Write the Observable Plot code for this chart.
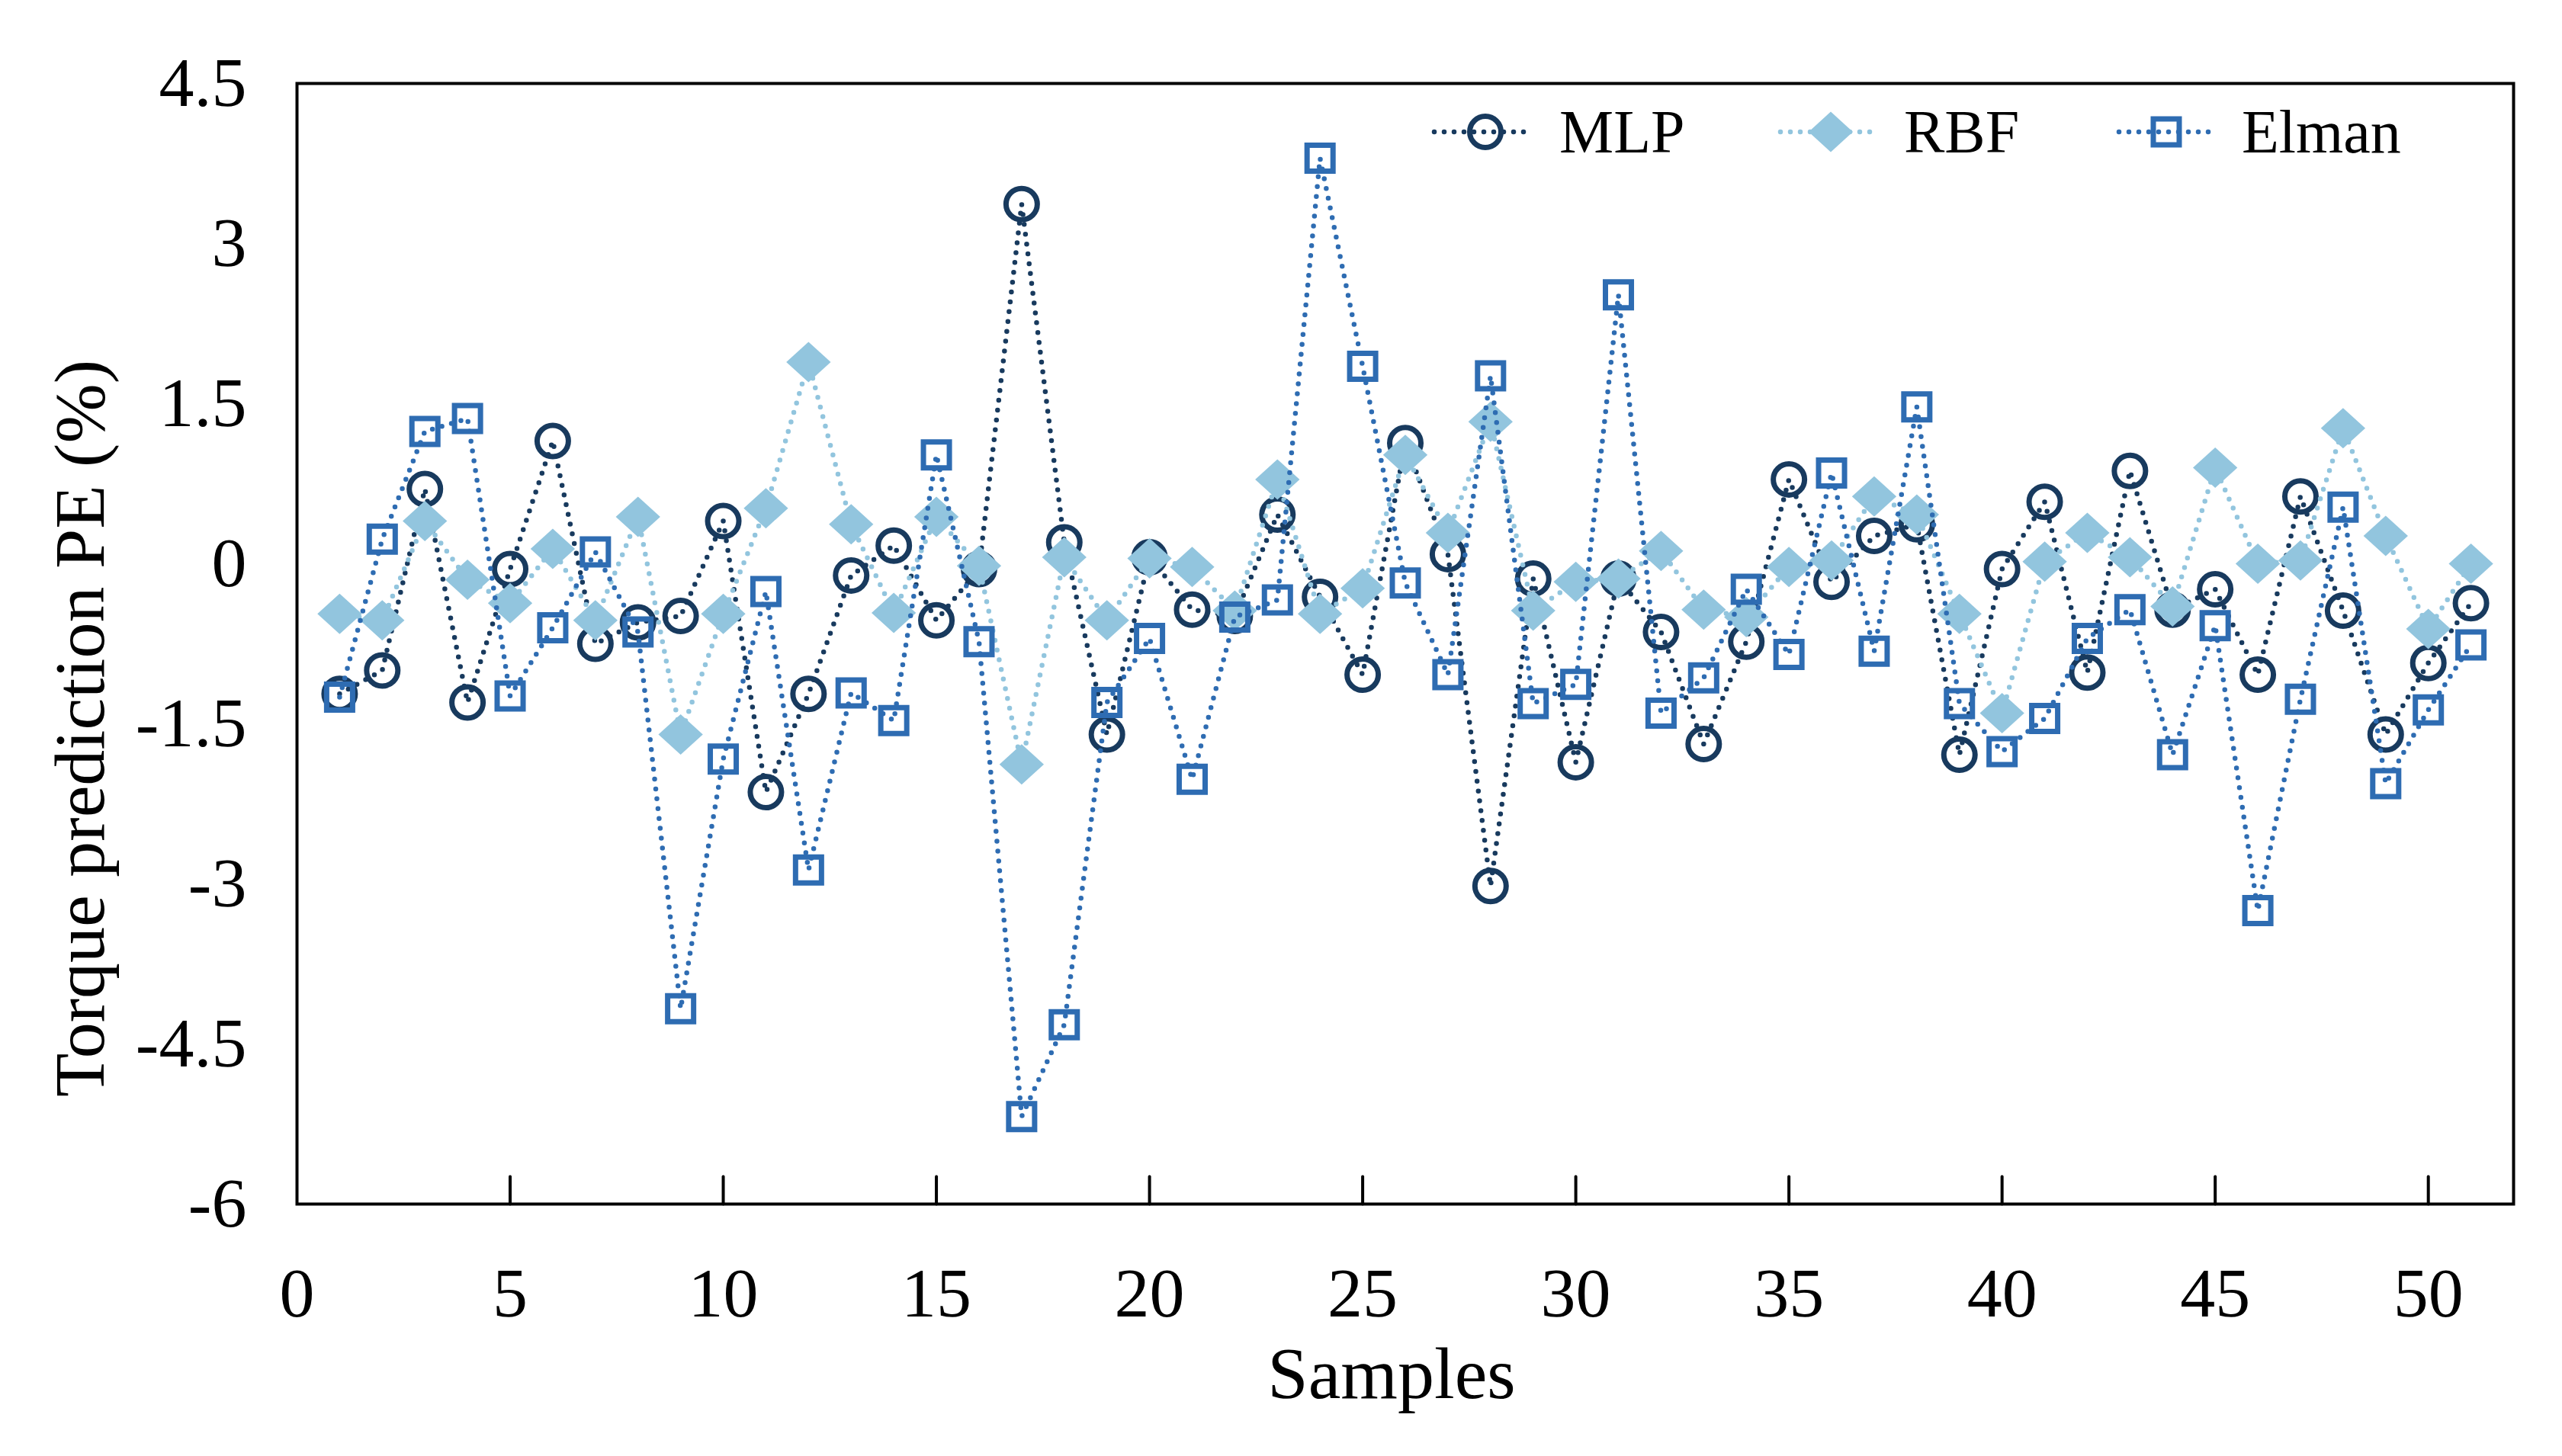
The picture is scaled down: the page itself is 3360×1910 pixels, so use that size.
<!DOCTYPE html>
<html>
<head>
<meta charset="utf-8">
<script src="https://cdn.jsdelivr.net/npm/d3@7"></script>
<script src="https://cdn.jsdelivr.net/npm/@observablehq/plot@0.6"></script>
<style>
  body { margin: 0; background: #fff; }
  #wrap { position: relative; width: 3360px; height: 1910px; background: #fff; }
  #legend { position: absolute; left: 0; top: 0; pointer-events: none; }
</style>
</head>
<body>
<div id="wrap"></div>
<script>
const samples = [1,2,3,4,5,6,7,8,9,10,11,12,13,14,15,16,17,18,19,20,21,22,23,24,25,26,27,28,29,30,31,32,33,34,35,36,37,38,39,40,41,42,43,44,45,46,47,48,49,50,51];
const mlp = [-1.22,-1.0,0.70,-1.30,-0.05,1.15,-0.75,-0.55,-0.49,0.40,-2.14,-1.22,-0.11,0.17,-0.53,-0.05,3.37,0.20,-1.60,0.06,-0.43,-0.49,0.46,-0.31,-1.04,1.13,0.09,-3.02,-0.14,-1.86,-0.14,-0.64,-1.69,-0.73,0.79,-0.17,0.26,0.37,-1.79,-0.05,0.58,-1.02,0.87,-0.43,-0.24,-1.04,0.63,-0.44,-1.60,-0.93,-0.37];
const rbf = [-0.47,-0.53,0.40,-0.15,-0.37,0.14,-0.53,0.44,-1.60,-0.47,0.52,1.89,0.37,-0.46,0.44,-0.02,-1.88,0.06,-0.53,0.05,-0.03,-0.44,0.79,-0.47,-0.23,1.02,0.29,1.33,-0.44,-0.17,-0.14,0.12,-0.43,-0.50,-0.03,0.03,0.63,0.46,-0.47,-1.40,0.02,0.29,0.06,-0.40,0.90,0.0,0.03,1.27,0.26,-0.61,0.0];
const elman = [-1.25,0.23,1.24,1.36,-1.24,-0.60,0.11,-0.64,-4.17,-1.83,-0.26,-2.87,-1.21,-1.47,1.02,-0.73,-5.18,-4.32,-1.30,-0.70,-2.02,-0.50,-0.34,3.80,1.85,-0.18,-1.04,1.76,-1.31,-1.13,2.52,-1.40,-1.07,-0.24,-0.85,0.85,-0.82,1.47,-1.31,-1.76,-1.45,-0.70,-0.43,-1.79,-0.58,-3.25,-1.27,0.53,-2.06,-1.37,-0.76];
const xTicks = [0,5,10,15,20,25,30,35,40,45,50];
const yTicks = [-6,-4.5,-3,-1.5,0,1.5,3,4.5];
const seriesNames = ["MLP","RBF","Elman"];
const seriesColors = ["#183a5e","#92c5de","#2e6cb2"];
const xLabel = "Samples";
const yLabel = "Torque prediction PE (%)";

const FONT = "'Liberation Serif','Times New Roman',serif";
const values = [mlp, rbf, elman];
const rows = [];
seriesNames.forEach((name, si) => {
  samples.forEach((s, i) => rows.push({sample: s, value: values[si][i], series: name}));
});

// Slightly wide diamond marker (as in the reference)
const wideDiamond = {
  draw(context, size) {
    const r = Math.sqrt(size / Math.PI);
    const w = r * 1.1, h = r;
    context.moveTo(0, -h);
    context.lineTo(w, 0);
    context.lineTo(0, h);
    context.lineTo(-w, 0);
    context.closePath();
  }
};
const tickShape = {
  draw(context, length) {
    context.moveTo(0, 0);
    context.lineTo(0, -length);
  }
};

const seriesMarks = [];
seriesNames.forEach((name, si) => {
  const data = rows.filter(d => d.series === name);
  const color = seriesColors[si];
  seriesMarks.push(Plot.line(data, {
    x: "sample", y: "value", stroke: color, strokeWidth: 6.5,
    strokeDasharray: "0 13", strokeLinecap: "round"
  }));
  if (si === 0) {
    seriesMarks.push(Plot.dot(data, {x: "sample", y: "value", symbol: "circle", r: 20.5, stroke: color, strokeWidth: 7, fill: "none"}));
  } else if (si === 1) {
    seriesMarks.push(Plot.dot(data, {x: "sample", y: "value", symbol: wideDiamond, r: 26.5, fill: color, stroke: "none"}));
  } else {
    seriesMarks.push(Plot.dot(data, {x: "sample", y: "value", symbol: "square", r: 19.2, stroke: color, strokeWidth: 7, fill: "none"}));
  }
});

const chart = Plot.plot({
  width: 3360,
  height: 1910,
  marginLeft: 389,
  marginRight: 64,
  marginTop: 109,
  marginBottom: 331,
  style: {fontFamily: FONT, color: "black", background: "white", overflow: "visible"},
  x: {domain: [0, 52]},
  y: {domain: [-6, 4.5]},
  marks: [
    Plot.axisY(yTicks, {tickSize: 0, tickPadding: 66, fontSize: 92, tickFormat: d => String(d), label: null}),
    Plot.axisX(xTicks, {tickSize: 0, tickPadding: 82, fontSize: 92, tickFormat: d => String(d), label: null}),
    ...seriesMarks,
    Plot.vector(xTicks.slice(1), {x: d => d, frameAnchor: "bottom", length: 36, anchor: "start", shape: tickShape, stroke: "black", strokeWidth: 4}),
    Plot.frame({stroke: "black", strokeWidth: 4}),
    Plot.text([xLabel], {text: d => d, frameAnchor: "bottom", dx: -18, dy: 224, textAnchor: "middle", lineAnchor: "middle", fontSize: 96, fill: "black"}),
    Plot.text([yLabel], {text: d => d, frameAnchor: "left", dx: -284, dy: 111, rotate: -90, textAnchor: "middle", lineAnchor: "middle", fontSize: 94, fill: "black"})
  ]
});
document.getElementById("wrap").appendChild(chart);

// Legend (inside the plot area, top right)
const legendItems = [
  {name: seriesNames[0], color: seriesColors[0], x0: 1881, x1: 2008, cx: 1948, tx: 2045, kind: "circle"},
  {name: seriesNames[1], color: seriesColors[1], x0: 2335, x1: 2464, cx: 2401, tx: 2497, kind: "diamond"},
  {name: seriesNames[2], color: seriesColors[2], x0: 2779, x1: 2903, cx: 2841, tx: 2940, kind: "square"}
];
const cy = 173;
const leg = d3.select("#wrap").append("svg")
  .attr("id", "legend").attr("width", 3360).attr("height", 1910);
legendItems.forEach(it => {
  const g = leg.append("g");
  g.append("line").attr("x1", it.x0).attr("x2", it.x1).attr("y1", cy).attr("y2", cy)
    .attr("stroke", it.color).attr("stroke-width", 6.5).attr("stroke-dasharray", "0 13").attr("stroke-linecap", "round");
  if (it.kind === "circle") {
    g.append("circle").attr("cx", it.cx).attr("cy", cy).attr("r", 20.5).attr("fill", "none").attr("stroke", it.color).attr("stroke-width", 7);
  } else if (it.kind === "diamond") {
    const w = 29, h = 26.5;
    g.append("path").attr("d", `M${it.cx},${cy - h}L${it.cx + w},${cy}L${it.cx},${cy + h}L${it.cx - w},${cy}Z`).attr("fill", it.color);
  } else {
    g.append("rect").attr("x", it.cx - 17).attr("y", cy - 17).attr("width", 34).attr("height", 34).attr("fill", "none").attr("stroke", it.color).attr("stroke-width", 7);
  }
  g.append("text").attr("x", it.tx).attr("y", cy + 27).attr("font-family", FONT).attr("font-size", 80).attr("fill", "black").text(it.name);
});
</script>
</body>
</html>
